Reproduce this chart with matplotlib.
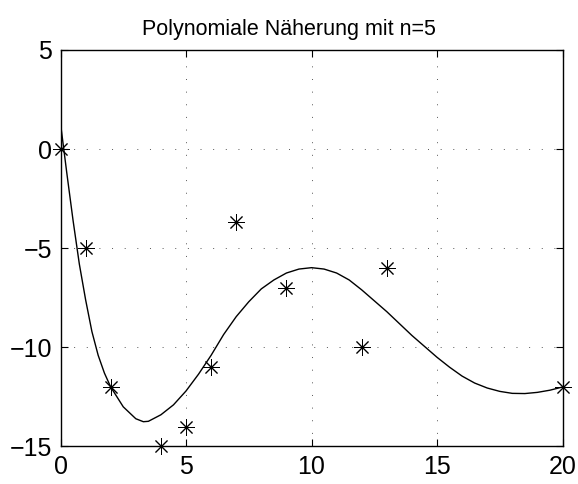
import matplotlib
matplotlib.use("Agg")
import matplotlib.pyplot as plt

# Measured data points (asterisks)
x_data = [0, 1, 2, 4, 5, 6, 7, 9, 12, 13, 20]
y_data = [0, -5, -12, -15, -14, -11, -3.7, -7, -10, -6, -12]

# Fitted curve
x_fit = [0, 0.25, 0.5, 0.75, 1.0, 1.25, 1.5, 1.75, 2.0, 2.5, 3.0, 3.3, 3.5,
         4.0, 4.5, 5.0, 5.5, 6.0, 6.5, 7.0, 7.5, 8.0, 8.5, 9.0, 9.5, 10.0,
         10.5, 11.0, 11.5, 12.0, 12.5, 13.0, 13.5, 14.0, 14.5, 15.0, 15.5,
         16.0, 16.5, 17.0, 17.5, 18.0, 18.5, 19.0, 19.5, 20.0]
y_fit = [1.3, -1.2, -3.6, -5.8, -7.6, -9.2, -10.4, -11.3, -12.0, -13.0, -13.6,
         -13.75, -13.73, -13.4, -12.9, -12.2, -11.35, -10.4, -9.35, -8.45,
         -7.7, -7.05, -6.6, -6.25, -6.05, -5.98, -6.05, -6.25, -6.6, -7.1,
         -7.65, -8.2, -8.8, -9.4, -9.95, -10.5, -11.0, -11.45, -11.8, -12.05,
         -12.22, -12.32, -12.33, -12.27, -12.16, -12.0]

x_ticks = [0, 5, 10, 15, 20]
y_ticks = [-15, -10, -5, 0, 5]
title = "Polynomiale Näherung mit n=5"

plt.rcParams['font.family'] = ['Liberation Sans', 'DejaVu Sans']

fig = plt.figure(figsize=(5.78, 4.84), dpi=100)
ax = fig.add_axes([0.1047, 0.0775, 0.8685, 0.8192])

ax.plot(x_fit, y_fit, color='black', linewidth=1.0, zorder=3)
ax.plot(x_data, y_data, linestyle='none', marker=(8, 2, 0), markersize=12,
        markeredgewidth=0.7, color='black', zorder=4, clip_on=False)

ax.set_xlim(0, 20)
ax.set_ylim(-15, 5)
ax.set_xticks(x_ticks)
ax.set_yticks(y_ticks)
ax.set_yticklabels([str(v).replace('-', '\u2212') for v in y_ticks])
ax.tick_params(direction='in', top=True, right=True, length=5, width=0.8,
               labelsize=18, pad=6)
for s in ax.spines.values():
    s.set_linewidth(1.0)
ax.grid(True, color='#555555', linestyle=(0, (1, 12)), linewidth=0.7)
ax.set_axisbelow(True)
ax.text(0.455, 1.025, title, transform=ax.transAxes, ha='center',
        va='bottom', fontsize=15.5)

fig.savefig("out.png", dpi=100)
